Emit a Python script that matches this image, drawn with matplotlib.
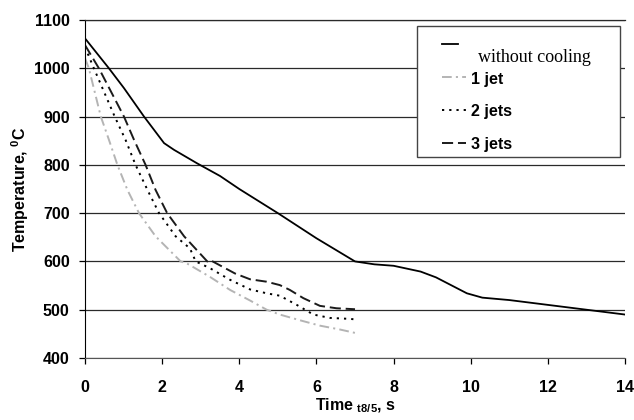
import matplotlib
matplotlib.use("Agg")
import matplotlib.pyplot as plt
from matplotlib.lines import Line2D
from matplotlib.patches import Rectangle

# --- Data ---
t_none = [0, 0.62, 1.01, 1.53, 2.05, 2.31, 2.91, 3.5, 4, 5, 6, 7, 7.5, 8, 8.7, 9.1, 9.9, 10.3, 11, 12, 13, 14]
T_none = [1062, 1000, 959, 900, 845, 831, 803, 777, 750, 700, 648, 600, 594, 591, 579, 567, 534, 525, 520, 510, 500, 490]

t_1jet = [0, 0.10, 0.41, 0.62, 0.84, 1.10, 1.40, 1.83, 2.48, 2.64, 3.24, 3.76, 4.28, 4.71, 5.05, 5.58, 6.09, 6.61, 7.0]
T_1jet = [1021, 1000, 900, 852, 800, 748, 700, 652, 600, 596, 568, 541, 519, 500, 490, 478, 467, 459, 452]

t_2jets = [0, 0.23, 0.77, 1.05, 1.31, 1.62, 1.92, 2.35, 2.72, 2.87, 3.24, 3.76, 4.28, 4.71, 5.05, 5.49, 5.92, 6.35, 6.87, 7.0]
T_2jets = [1044, 1000, 900, 852, 800, 748, 700, 652, 627, 600, 586, 562, 542, 534, 529, 510, 490, 483, 481, 480]

t_3jets = [0, 0.36, 1.01, 1.27, 1.57, 1.83, 2.13, 2.57, 3.17, 3.24, 3.89, 4.28, 4.71, 5.05, 5.31, 5.66, 6.09, 6.52, 7.0]
T_3jets = [1048, 1000, 900, 852, 800, 748, 700, 652, 600, 603, 575, 563, 558, 551, 541, 524, 508, 503, 501]

legend_labels = ["without cooling", "1 jet", "2 jets", "3 jets"]

plt.rcParams['lines.scale_dashes'] = False
plt.rcParams['font.family'] = 'Liberation Sans'
plt.rcParams['font.weight'] = 'bold'
plt.rcParams['mathtext.fontset'] = 'custom'
plt.rcParams['mathtext.rm'] = 'Liberation Sans:bold'
plt.rcParams['mathtext.bf'] = 'Liberation Sans:bold'

W, H = 634, 420
fig = plt.figure(figsize=(W / 100, H / 100), dpi=100)
ax = fig.add_axes([85 / W, 1 - 358 / H, 540 / W, 338 / H])

def fx(x):
    return x / W

def fy(y):
    return 1 - y / H

# styles
s_none = dict(color='black', lw=1.3, ls='-')
s_1 = dict(color='#b4b4b4', lw=1.4, ls=(0, (7, 3, 1.5, 3)))
s_2 = dict(color='black', lw=1.4, ls=(0, (1.6, 3.6)))
s_3 = dict(color='#1a1a1a', lw=1.4, ls=(0, (8, 3.5)))

ax.plot(t_none, T_none, **s_none)
ax.plot(t_1jet, T_1jet, **s_1)
ax.plot(t_2jets, T_2jets, **s_2)
ax.plot(t_3jets, T_3jets, **s_3)

ax.set_xlim(0, 14)
ax.set_ylim(400, 1100)
ax.set_xticks(range(0, 15, 2))
ax.set_yticks(range(400, 1101, 100))
ax.yaxis.grid(True, color='#2a2a2a', lw=0.9)
ax.set_axisbelow(True)

ax.spines['right'].set_visible(False)
ax.spines['top'].set_color('#2a2a2a')
ax.spines['top'].set_linewidth(0.9)
ax.spines['left'].set_color('black')
ax.spines['bottom'].set_color('#555555')
ax.tick_params(axis='y', direction='out', length=4, width=0.9, pad=7, labelsize=11.5)
ax.tick_params(axis='x', direction='out', length=4, width=0.9, pad=12, labelsize=11.5)
for lab in ax.get_xticklabels() + ax.get_yticklabels():
    lab.set_fontweight('bold')

ax.set_xlabel(r'Time $_{\mathrm{t8/5}}$, s', fontsize=11.5, fontweight='bold', labelpad=1)
ax.set_ylabel(r'Temperature, $^{\mathrm{0}}$C', fontsize=11.5, fontweight='bold', labelpad=2)

# --- legend box drawn by hand ---
fig.add_artist(Rectangle((fx(417), fy(157)), fx(620) - fx(417), fy(26) - fy(157),
                         transform=fig.transFigure, facecolor='white',
                         edgecolor='#444444', lw=1.0, zorder=5))
samples = [(s_none, 442, 458, 43.5), (s_1, 442, 466, 76.5),
           (s_2, 442, 466, 109.5), (s_3, 442, 466, 142.5)]
for st, x0, x1, y in samples:
    fig.add_artist(Line2D([fx(x0), fx(x1)], [fy(y), fy(y)], transform=fig.transFigure,
                          zorder=6, **st))
fig.text(fx(478), fy(61.5), legend_labels[0], fontsize=13, fontweight='normal',
         family='Liberation Serif', va='baseline', zorder=6)
for lab, y in zip(legend_labels[1:], [84, 116, 148.5]):
    fig.text(fx(471), fy(y), lab, fontsize=11.5, fontweight='bold', va='baseline', zorder=6)

fig.savefig('out.png', dpi=100)
